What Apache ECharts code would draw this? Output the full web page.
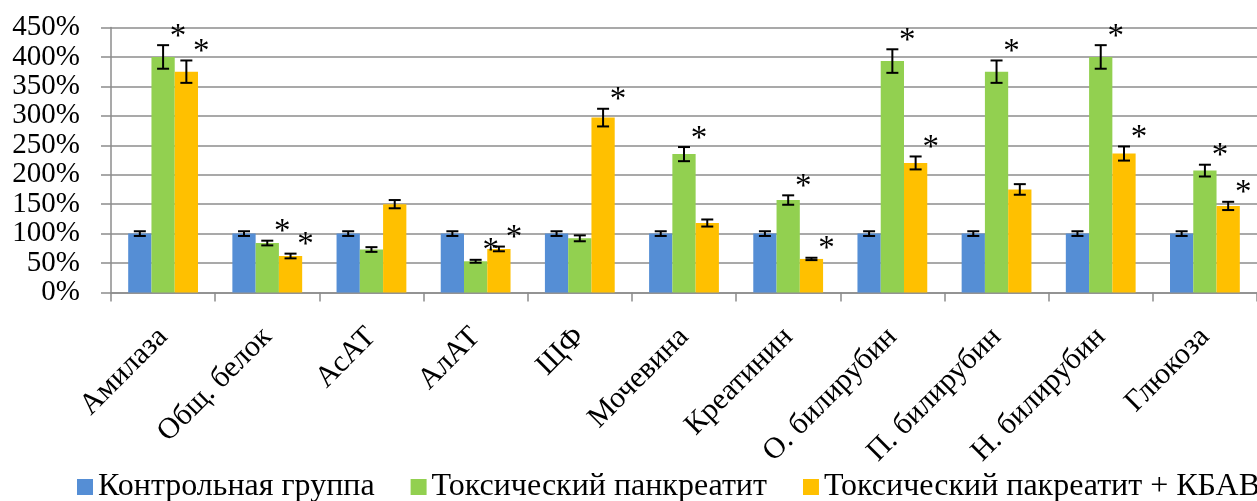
<!DOCTYPE html>
<html>
<head>
<meta charset="utf-8">
<script src="https://cdn.jsdelivr.net/npm/echarts@6/dist/echarts.min.js"></script>
<style>
  html, body { margin: 0; padding: 0; background: #fff; }
  #chart { width: 1257px; height: 501px; }
</style>
</head>
<body>
<div id="chart"></div>
<script>
// Biochemical indicators, % of control group
const categories = ['Амилаза', 'Общ. белок', 'АсАТ', 'АлАТ', 'ЩФ', 'Мочевина',
  'Креатинин', 'О. билирубин', 'П. билирубин', 'Н. билирубин', 'Глюкоза'];
const seriesNames = ['Контрольная группа', 'Токсический панкреатит', 'Токсический пакреатит + КБАВ'];

const controlValues = [100, 100, 100, 100, 100, 100, 100, 100, 100, 100, 100];
const controlErrors = [4, 4, 4, 4, 4, 4, 4, 4, 4, 4, 4];
const controlSignif = [0, 0, 0, 0, 0, 0, 0, 0, 0, 0, 0];

const toxicValues = [400, 84, 73, 53, 92, 235, 157, 393, 375, 400, 207];
const toxicErrors = [20, 4, 4, 2.5, 5, 12, 8, 20, 19, 20, 10];
const toxicSignif = [1, 1, 0, 1, 0, 1, 1, 1, 1, 1, 1];

const kbavValues = [375, 62, 150, 74, 297, 118, 57, 220, 175, 236, 147];
const kbavErrors = [19, 4, 7, 4, 15, 6, 2, 11, 9, 12, 7];
const kbavSignif = [1, 1, 0, 1, 1, 0, 1, 1, 0, 1, 1];

const yTicks = { min: 0, max: 450, interval: 50 };

const colors = ['#558ED5', '#92D050', '#FFC000'];
const FONT = '"Liberation Serif", "Times New Roman", serif';
const CATEGORY_GAP = 0.33;

const groups = [
  { values: controlValues, errors: controlErrors, signif: controlSignif },
  { values: toxicValues, errors: toxicErrors, signif: toxicSignif },
  { values: kbavValues, errors: kbavErrors, signif: kbavSignif }
];

// Error bars with caps, plus a significance asterisk where flagged
function errorRenderer(groupIndex) {
  return function (params, api) {
    const idx = api.value(0);
    const val = api.value(1);
    const err = api.value(2);
    const sig = api.value(3);
    const band = api.size([1, 0])[0];
    const barW = band * (1 - CATEGORY_GAP) / 3;
    const center = api.coord([idx, val]);
    const x = center[0] + (groupIndex - 1) * barW;
    const top = api.coord([idx, val + err])[1];
    const bottom = api.coord([idx, val - err])[1];
    const cap = 6;
    const style = { stroke: '#000', lineWidth: 2 };
    const children = [
      { type: 'line', shape: { x1: x, y1: top, x2: x, y2: bottom }, style },
      { type: 'line', shape: { x1: x - cap, y1: top, x2: x + cap, y2: top }, style },
      { type: 'line', shape: { x1: x - cap, y1: bottom, x2: x + cap, y2: bottom }, style }
    ];
    if (sig) {
      children.push({
        type: 'text',
        style: {
          text: '*', x: x + 15, y: top - 8,
          fill: '#000', font: '33px ' + FONT,
          align: 'center', verticalAlign: 'middle'
        }
      });
    }
    return { type: 'group', children };
  };
}

const barSeries = groups.map((g, i) => ({
  name: seriesNames[i],
  type: 'bar',
  data: g.values,
  itemStyle: { color: colors[i] },
  barGap: '0%',
  barCategoryGap: (CATEGORY_GAP * 100) + '%',
  animation: false
}));

const errSeries = groups.map((g, i) => ({
  type: 'custom',
  renderItem: errorRenderer(i),
  data: g.values.map((v, k) => [k, v, g.errors[k], g.signif[k]]),
  encode: { x: 0, y: 1 },
  z: 10,
  silent: true,
  animation: false
}));

const chart = echarts.init(document.getElementById('chart'), null, { renderer: 'canvas' });
chart.setOption({
  animation: false,
  textStyle: { fontFamily: FONT },
  grid: { left: 111, top: 27.5, right: -8, bottom: 208.5, containLabel: false },
  legend: {
    data: seriesNames,
    orient: 'horizontal',
    left: 72, top: 466, width: 1500,
    icon: 'rect', itemWidth: 16, itemHeight: 16, itemGap: 36,
    textStyle: { fontFamily: FONT, fontSize: 32, color: '#000', padding: [0, 0, 0, 0] }
  },
  xAxis: {
    type: 'category',
    data: categories,
    axisLine: { lineStyle: { color: '#8c8c8c', width: 1.5 } },
    axisTick: { show: true, interval: 0, length: 9, lineStyle: { color: '#8c8c8c', width: 1.5 } },
    axisLabel: {
      interval: 0, rotate: 45, margin: 40,
      fontFamily: FONT, fontSize: 30, color: '#000'
    }
  },
  yAxis: {
    type: 'value',
    min: yTicks.min, max: yTicks.max, interval: yTicks.interval,
    axisLine: { show: true, lineStyle: { color: '#8c8c8c', width: 1.5 } },
    axisTick: { show: true, length: 10, lineStyle: { color: '#8c8c8c', width: 1.5 } },
    splitLine: { lineStyle: { color: '#8c8c8c', width: 1.5 } },
    axisLabel: {
      formatter: '{value}%', margin: 31,
      fontFamily: FONT, fontSize: 29, color: '#000'
    }
  },
  series: barSeries.concat(errSeries)
});
</script>
</body>
</html>
